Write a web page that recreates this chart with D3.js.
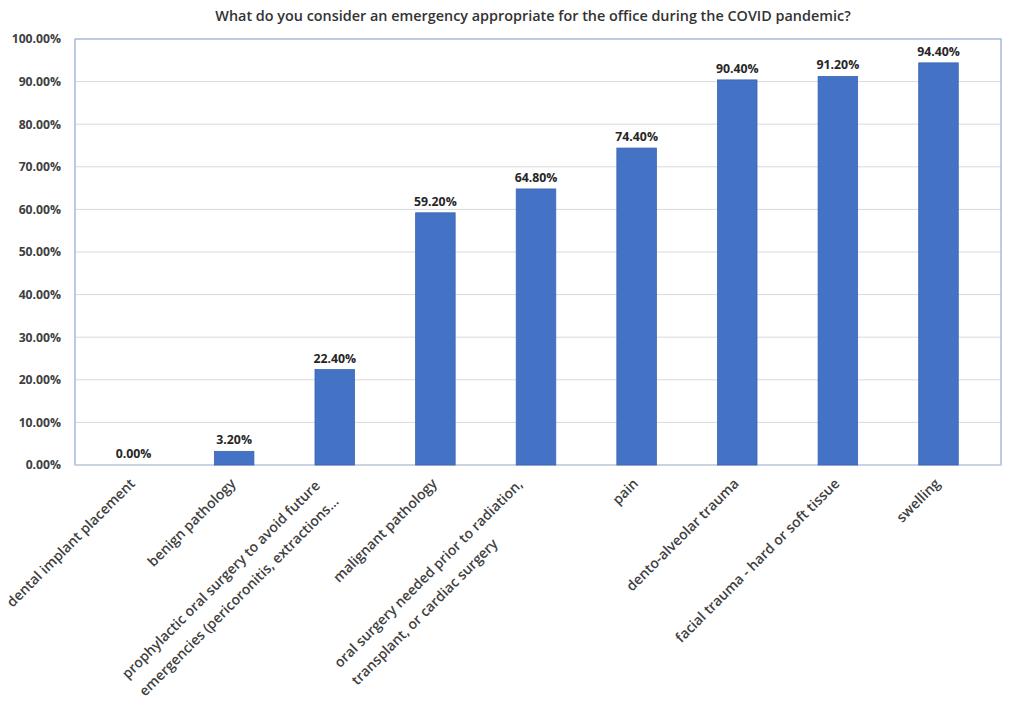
<!DOCTYPE html>
<html>
<head>
<meta charset="utf-8">
<script src="https://cdn.jsdelivr.net/npm/d3@7"></script>
<style>
  html, body { margin: 0; padding: 0; background: #ffffff; }
  svg { display: block; }
  text { font-family: "Open Sans", "Liberation Sans", sans-serif; }
</style>
</head>
<body>
<svg id="chart" width="1010" height="719"></svg>
<script>
const title = "What do you consider an emergency appropriate for the office during the COVID pandemic?";
const categories = [
  "dental implant placement",
  "benign pathology",
  "prophylactic oral surgery to avoid future\nemergencies (pericoronitis, extractions…",
  "malignant pathology",
  "oral surgery needed prior to radiation,\ntransplant, or cardiac surgery",
  "pain",
  "dento-alveolar trauma",
  "facial trauma - hard or soft tissue",
  "swelling"
];
const values = [0.000, 0.032, 0.224, 0.592, 0.648, 0.744, 0.904, 0.912, 0.944];
const yTicks = [0, 0.1, 0.2, 0.3, 0.4, 0.5, 0.6, 0.7, 0.8, 0.9, 1.0];

const svg = d3.select("#chart");
const W = 1010, H = 719;
const frame = { left: 75, right: 1001, top: 39, bottom: 465 };

svg.append("rect").attr("width", W).attr("height", H).attr("fill", "#ffffff");

const x = d3.scaleBand()
  .domain(categories)
  .range([83.2, 988.8])
  .paddingInner(0.607)
  .paddingOuter(0.3035);

const y = d3.scaleLinear().domain([0, 1]).range([frame.bottom, frame.top]);

// gridlines
svg.append("g")
  .selectAll("line")
  .data(yTicks.filter(d => d > 0 && d < 1))
  .join("line")
  .attr("x1", frame.left).attr("x2", frame.right)
  .attr("y1", d => y(d)).attr("y2", d => y(d))
  .attr("stroke", "#d9d9d9").attr("stroke-width", 1);

// plot border
svg.append("rect")
  .attr("x", frame.left).attr("y", frame.top)
  .attr("width", frame.right - frame.left)
  .attr("height", frame.bottom - frame.top)
  .attr("fill", "none")
  .attr("stroke", "#8eaad2").attr("stroke-width", 1.2);

// baseline (category axis)
svg.append("line")
  .attr("x1", frame.left).attr("x2", frame.right)
  .attr("y1", y(0)).attr("y2", y(0))
  .attr("stroke", "#d0d6df").attr("stroke-width", 1.3);

// bars
svg.append("g")
  .selectAll("rect")
  .data(values)
  .join("rect")
  .attr("x", (d, i) => x(categories[i]))
  .attr("width", x.bandwidth())
  .attr("y", d => y(d))
  .attr("height", d => y(0) - y(d))
  .attr("fill", "#4472c4")
  .attr("stroke", "#3a65b3").attr("stroke-width", 0.8);

// data labels
svg.append("g")
  .selectAll("text")
  .data(values)
  .join("text")
  .attr("x", (d, i) => x(categories[i]) + x.bandwidth() / 2)
  .attr("y", d => y(d) - 7)
  .attr("text-anchor", "middle")
  .attr("font-size", 12.3)
  .attr("font-weight", 700)
  .attr("fill", "#262626")
  .text(d => d3.format(".2%")(d));

// y axis
const yAxis = d3.axisLeft(y)
  .tickValues(yTicks)
  .tickFormat(d3.format(".2%"))
  .tickSize(0)
  .tickPadding(14);
const gy = svg.append("g")
  .attr("transform", `translate(${frame.left},0)`)
  .call(yAxis);
gy.select(".domain").remove();
gy.selectAll("text")
  .attr("font-family", "Open Sans")
  .attr("font-size", 12.2)
  .attr("font-weight", 700)
  .attr("fill", "#404040");

// x axis
const xAxis = d3.axisBottom(x).tickSize(0).tickFormat("");
const gx = svg.append("g")
  .attr("transform", `translate(0,${frame.bottom})`)
  .call(xAxis);
gx.select(".domain").remove();

const lh = 24.5;
const labelG = svg.append("g");
categories.forEach((c, i) => {
  const cx = x(c) + x.bandwidth() / 2;
  const lines = c.split("\n");
  const multi = lines.length > 1;
  const t = labelG.append("text")
    .attr("transform", `translate(${cx - 1},${frame.bottom + 16 + (multi ? 3 : 0)}) rotate(-45)`)
    .attr("font-size", 14)
    .attr("font-weight", 600)
    .attr("fill", "#404040");
  if (!multi) {
    t.attr("text-anchor", "end").attr("dy", "0.35em").text(c);
  } else {
    t.attr("text-anchor", "start");
    const tmp = [];
    lines.forEach((ln, k) => {
      tmp.push(t.append("tspan").attr("x", 0).attr("y", (k - (lines.length - 1) / 2) * lh).attr("dy", "0.35em").text(ln));
    });
    const maxLen = d3.max(tmp, s => s.node().getComputedTextLength());
    tmp.forEach(s => s.attr("x", -maxLen - 9));
  }
});

// title
svg.append("text")
  .attr("x", 533).attr("y", 21)
  .attr("text-anchor", "middle")
  .attr("font-size", 14.4)
  .attr("font-weight", 600)
  .attr("fill", "#333333")
  .text(title);
</script>
</body>
</html>
